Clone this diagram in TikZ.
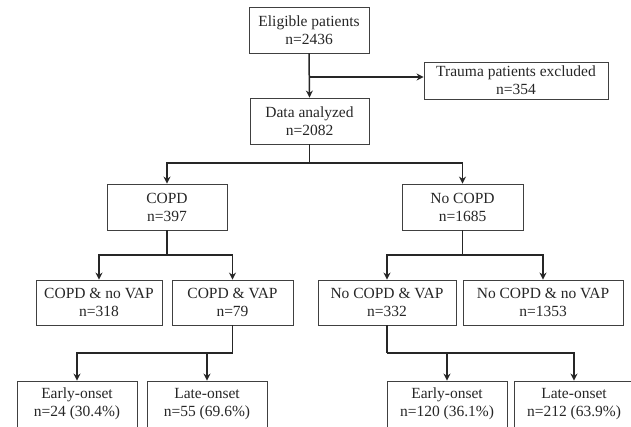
\documentclass[tikz,border=0pt]{standalone}
\usepackage{fontspec}
\setmainfont{Liberation Serif}
\usetikzlibrary{arrows.meta}
\begin{document}
\begin{tikzpicture}[x=1pt, y=-1pt,
    box/.style={draw=black!75, line width=0.9pt, align=center, inner sep=0pt,
        minimum height=46pt, text=black!85, font=\fontsize{15.5}{18}\selectfont},
    arr/.style={draw=black!85, line width=1.5pt, -{Stealth[length=7pt,width=7pt]}},
    ln/.style={draw=black!85, line width=1.5pt}]
    \useasboundingbox (0,0) rectangle (631,426);

    % 纳入与排除
    \node[box, minimum width=120pt] (elig) at (309,30) {Eligible patients\\n=2436};
    \node[box, minimum width=184pt, minimum height=37pt] (trauma) at (516,80.5) {Trauma patients excluded\\n=354};
    \node[box, minimum width=119pt] (data) at (309.5,121) {Data analyzed\\n=2082};
    \coordinate (split) at (309,77);
    \draw[arr] (elig.south) -- (data.north);
    \draw[arr] (split) -- (split -| trauma.west);

    % 按COPD分组
    \node[box, minimum width=120pt] (copd) at (167,207) {COPD\\n=397};
    \node[box, minimum width=121pt] (nocopd) at (462.5,207) {No COPD\\n=1685};
    \coordinate (d1) at (309.5,163);
    \draw[ln] (data.south) -- (d1);
    \draw[arr] (d1) -| (copd.north);
    \draw[arr] (d1) -| (nocopd.north);

    % 按VAP分组
    \node[box, minimum width=126pt, minimum height=45pt] (copdnovap) at (99,302.5) {COPD \& no VAP\\n=318};
    \node[box, minimum width=121pt, minimum height=45pt] (copdvap) at (232.5,302.5) {COPD \& VAP\\n=79};
    \node[box, minimum width=138pt, minimum height=45pt] (nocopdvap) at (387,302.5) {No COPD \& VAP\\n=332};
    \node[box, minimum width=160pt, minimum height=45pt] (nocopdnovap) at (543,302.5) {No COPD \& no VAP\\n=1353};
    \coordinate (c1) at (167,255);
    \coordinate (c2) at (462.5,255);
    \draw[ln] (copd.south) -- (c1);
    \draw[arr] (c1) -| (copdnovap.north);
    \draw[arr] (c1) -| (copdvap.north);
    \draw[ln] (nocopd.south) -- (c2);
    \draw[arr] (c2) -| (nocopdvap.north);
    \draw[arr] (c2) -| (nocopdnovap.north);

    % 早发与晚发
    \node[box, minimum width=120pt] (early1) at (77,404) {Early-onset\\n=24 (30.4\%)};
    \node[box, minimum width=120pt] (late1) at (207,404) {Late-onset\\n=55 (69.6\%)};
    \node[box, minimum width=120pt] (early2) at (447,404) {Early-onset\\n=120 (36.1\%)};
    \node[box, minimum width=120pt] (late2) at (574,404) {Late-onset\\n=212 (63.9\%)};
    \coordinate (v1) at (232.5,353);
    \coordinate (v2) at (387,353);
    \draw[ln] (copdvap.south) -- (v1);
    \draw[arr] (v1) -| (early1.north);
    \draw[arr] (v1) -| (late1.north);
    \draw[ln] (nocopdvap.south) -- (v2);
    \draw[arr] (v2) -| (early2.north);
    \draw[arr] (v2) -| (late2.north);
\end{tikzpicture}
\end{document}
